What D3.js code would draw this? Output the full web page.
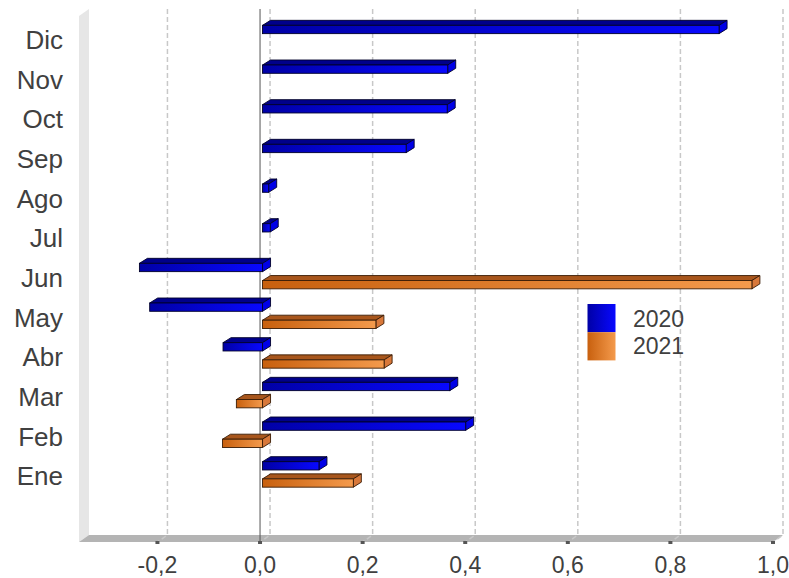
<!DOCTYPE html>
<html>
<head>
<meta charset="utf-8">
<script src="https://cdn.jsdelivr.net/npm/d3@7"></script>
<style>
  html, body { margin: 0; padding: 0; background: #ffffff; }
  svg { display: block; }
</style>
</head>
<body>
<svg id="chart" width="789" height="578"></svg>
<script>
// ---- data ----
const categories = ["Ene","Feb","Mar","Abr","May","Jun","Jul","Ago","Sep","Oct","Nov","Dic"];
const seriesNames = ["2020","2021"];
const values2020 = [0.11, 0.396, 0.365, -0.077, -0.22, -0.24, 0.015, 0.012, 0.28, 0.36, 0.361, 0.89];
const values2021 = [0.177, -0.078, -0.051, 0.237, 0.221, 0.954, null, null, null, null, null, null];
const tickValues = [-0.2, 0, 0.2, 0.4, 0.6, 0.8, 1.0];

// ---- setup ----
const svg = d3.select("#chart");
const DX = 10, DY = -7;            // full depth offset
const BX = 8, BY = -5;             // bar depth
const OX = 2.5, OY = -1.8;         // bar front offset from front plane
const frontTop = 16, frontBottom = 542;
const font = "'Liberation Sans', Arial, Helvetica, sans-serif";
const textColor = "#404040";

const x = d3.scaleLinear().domain([-0.35, 1.0]).range([80.5, 773]);
const y = d3.scaleBand().domain(categories).range([496.2, 20.2]).padding(0);

const defs = svg.append("defs");
function grad(id, c0, c1) {
  const g = defs.append("linearGradient").attr("id", id)
    .attr("x1", "0%").attr("y1", "0%").attr("x2", "100%").attr("y2", "0%");
  g.append("stop").attr("offset", "0%").attr("stop-color", c0);
  g.append("stop").attr("offset", "100%").attr("stop-color", c1);
}
grad("gBlue", "#0000a6", "#0808ff");
grad("gOrange", "#c8600e", "#f49a4c");

const styles = [
  { front: "url(#gBlue)", top: "#00008a", side: "#0000e6", stroke: "#00002a", legend: "url(#gBlue)" },
  { front: "url(#gOrange)", top: "#a8561c", side: "#d8783a", stroke: "#3a1c06", legend: "url(#gOrange)" }
];

// ---- wall & floor ----
const xl = x.range()[0] - 1.5, xr = x.range()[1];
const pts = a => a.map(p => p.join(",")).join(" ");
svg.append("polygon")
  .attr("points", pts([[xl, frontTop], [xl + DX, frontTop + DY], [xl + DX, frontBottom + DY], [xl, frontBottom]]))
  .attr("fill", "#e6e6e6");
svg.append("polygon")
  .attr("points", pts([[xl, frontBottom], [xl + DX, frontBottom + DY], [xr + DX, frontBottom + DY], [xr, frontBottom]]))
  .attr("fill", "#b4b4b4");

// ---- grid ----
const grid = svg.append("g");
tickValues.forEach(t => {
  const xt = x(t);
  grid.append("path")
    .attr("d", `M${xt + DX},${frontTop + DY} L${xt + DX},${frontBottom + DY} L${xt},${frontBottom}`)
    .attr("fill", "none").attr("stroke", "#c8c8c8").attr("stroke-width", 1.5)
    .attr("stroke-dasharray", "5,3");
  grid.append("rect").attr("x", xt - 2).attr("y", frontBottom - 1).attr("width", 4).attr("height", 3)
    .attr("fill", "#555");
  grid.append("text")
    .attr("x", xt).attr("y", 573)
    .attr("text-anchor", "middle")
    .attr("font-family", font).attr("font-size", 23).attr("fill", textColor)
    .text(t.toFixed(1).replace(".", ","));
});

// zero line
svg.append("line")
  .attr("x1", x(0)).attr("x2", x(0))
  .attr("y1", frontTop + DY).attr("y2", frontBottom)
  .attr("stroke", "#555").attr("stroke-width", 1);

// ---- category labels ----
svg.append("g").selectAll("text").data(categories).join("text")
  .attr("x", 63)
  .attr("y", d => y(d) + y.bandwidth() / 2 + 9)
  .attr("text-anchor", "end")
  .attr("font-family", font).attr("font-size", 26).attr("fill", textColor)
  .text(d => d);

// ---- bars ----
const barH = 8.3;
const relTop = [-12.9, 4.3];   // relative to band center, front plane
const allSeries = [values2020, values2021];
const barsG = svg.append("g");
categories.slice().reverse().forEach(cat => {
  const i = categories.indexOf(cat);
  allSeries.forEach((vals, s) => {
    const v = vals[i];
    if (v === null || v === undefined) return;
    const st = styles[s];
    const fx0 = x(Math.min(0, v)) + OX, fx1 = x(Math.max(0, v)) + OX;
    const fy0 = y(cat) + y.bandwidth() / 2 + relTop[s] + OY, fy1 = fy0 + barH;
    const g = barsG.append("g");
    g.append("polygon")
      .attr("points", pts([[fx0, fy0], [fx1, fy0], [fx1 + BX, fy0 + BY], [fx0 + BX, fy0 + BY]]))
      .attr("fill", st.top).attr("stroke", st.stroke).attr("stroke-width", 0.9).attr("stroke-linejoin", "round");
    g.append("polygon")
      .attr("points", pts([[fx1, fy0], [fx1 + BX, fy0 + BY], [fx1 + BX, fy1 + BY], [fx1, fy1]]))
      .attr("fill", st.side).attr("stroke", st.stroke).attr("stroke-width", 0.9).attr("stroke-linejoin", "round");
    g.append("rect")
      .attr("x", fx0).attr("y", fy0).attr("width", Math.max(0.5, fx1 - fx0)).attr("height", barH)
      .attr("fill", st.front).attr("stroke", st.stroke).attr("stroke-width", 0.9);
  });
});

// ---- legend ----
const lg = svg.append("g");
seriesNames.forEach((name, s) => {
  lg.append("rect")
    .attr("x", 587.5).attr("y", 304 + s * 28.2).attr("width", 28).attr("height", 28.2)
    .attr("fill", styles[s].legend);
  lg.append("text")
    .attr("x", 633).attr("y", 326.5 + s * 27)
    .attr("font-family", font).attr("font-size", 23).attr("fill", textColor)
    .text(name);
});
</script>
</body>
</html>
